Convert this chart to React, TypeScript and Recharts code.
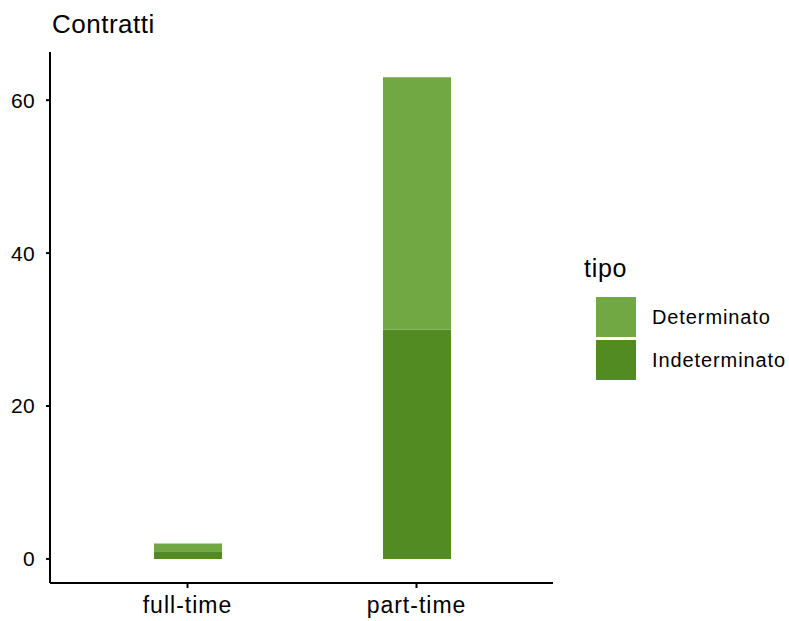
import { BarChart, Bar, XAxis, YAxis } from "recharts";

const categories = ["full-time", "part-time"];
const indeterminato = [1, 30];
const determinato = [1, 33];
const yTicks = [0, 20, 40, 60];

const COLOR_DET = "#72a844";
const COLOR_IND = "#538b23";

const data = categories.map((c, i) => ({
  tipo: c,
  Indeterminato: indeterminato[i],
  Determinato: determinato[i],
}));

const FONT = "'Liberation Sans', Arial, sans-serif";

// legend drawn beside the plot, like ggplot's guide
function LegendBox() {
  const items = [
    { name: "Determinato", color: COLOR_DET, top: 297 },
    { name: "Indeterminato", color: COLOR_IND, top: 340 },
  ];
  return (
    <div style={{ fontFamily: FONT, color: "#000" }}>
      <div style={{ position: "absolute", left: 584, top: 254, fontSize: 25, letterSpacing: 0.7, lineHeight: "28px" }}>
        tipo
      </div>
      {items.map((it) => (
        <div key={it.name}>
          <div style={{ position: "absolute", left: 596, top: it.top, width: 40, height: 40, background: it.color }} />
          <div
            style={{
              position: "absolute",
              left: 652,
              top: it.top + 7,
              fontSize: 20,
              letterSpacing: 0.9,
              lineHeight: "26px",
            }}
          >
            {it.name}
          </div>
        </div>
      ))}
    </div>
  );
}

export default function App() {
  return (
    <div style={{ position: "absolute", left: 0, top: 0, width: 789, height: 621, background: "#fff" }}>
      <div
        style={{
          position: "absolute",
          left: 52,
          top: 9,
          fontFamily: FONT,
          fontSize: 26,
          letterSpacing: 0.5,
          lineHeight: "30px",
          color: "#000",
        }}
      >
        Contratti
      </div>
      <BarChart
        width={789}
        height={621}
        data={data}
        margin={{ top: 52, right: 236, left: 10, bottom: 0 }}
        style={{ fontFamily: FONT }}
      >
        <XAxis
          dataKey="tipo"
          height={38}
          padding={{ left: 23, right: 22 }}
          axisLine={{ stroke: "#000", strokeWidth: 2 }}
          tickLine={{ stroke: "#000", strokeWidth: 2 }}
          tickSize={5}
          tickMargin={9}
          tick={{ fill: "#000", fontSize: 23, letterSpacing: 1 }}
        />
        <YAxis
          width={40}
          type="number"
          domain={[-3.15, 66.3]}
          ticks={yTicks}
          allowDataOverflow
          axisLine={{ stroke: "#000", strokeWidth: 2 }}
          tickLine={{ stroke: "#000", strokeWidth: 2 }}
          tickSize={4}
          tickMargin={11}
          fontSize={21}
          tick={{ fill: "#000", fontSize: 21, letterSpacing: 0.3 }}
        />
        <Bar dataKey="Indeterminato" stackId="a" fill={COLOR_IND} barSize={68} isAnimationActive={false} />
        <Bar dataKey="Determinato" stackId="a" fill={COLOR_DET} barSize={68} isAnimationActive={false} />
      </BarChart>
      <LegendBox />
    </div>
  );
}
